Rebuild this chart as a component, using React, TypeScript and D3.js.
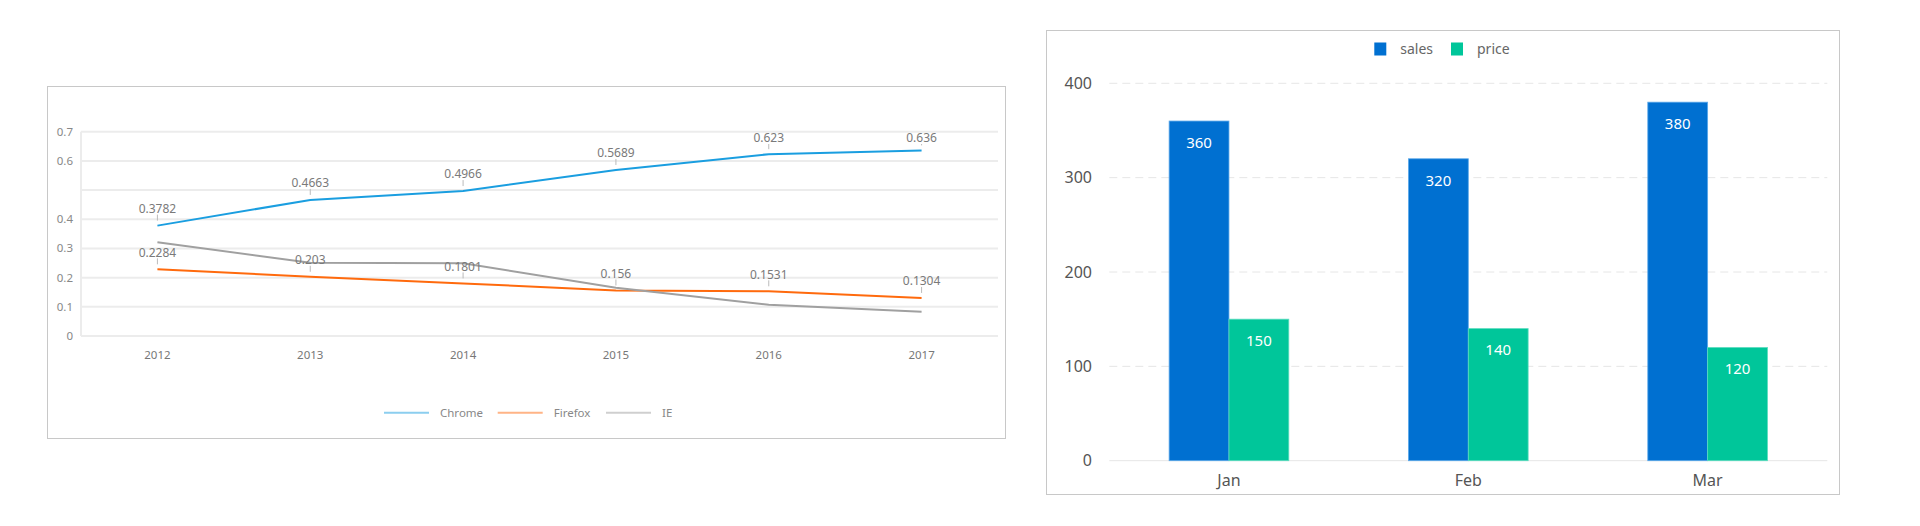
import React from 'react';
import * as d3 from 'd3';

// line chart data
const years = ['2012', '2013', '2014', '2015', '2016', '2017'];
const chrome = [0.3782, 0.4663, 0.4966, 0.5689, 0.623, 0.636];
const firefox = [0.2284, 0.203, 0.1801, 0.156, 0.1531, 0.1304];
const ie = [0.3214, 0.2511, 0.2491, 0.1652, 0.1067, 0.0834];
const shareTicks = [0, 0.1, 0.2, 0.3, 0.4, 0.5, 0.6, 0.7];
const shareTickLabels = ['0', '0.1', '0.2', '0.3', '0.4', '', '0.6', '0.7'];

// bar chart data
const months = ['Jan', 'Feb', 'Mar'];
const sales = [360, 320, 380];
const price = [150, 140, 120];
const barTicks = [0, 100, 200, 300, 400];

const FONT = '"Noto Sans", "Open Sans", sans-serif';

const lineSeries = [
  { name: 'Chrome', values: chrome, color: '#1a9ee0', labels: true },
  { name: 'Firefox', values: firefox, color: '#ff6a0d', labels: true },
  { name: 'IE', values: ie, color: '#a0a0a0', labels: false },
];

function LineChart() {
  const x = d3.scaleBand<string>().domain(years).range([81, 998]);
  const y = d3.scaleLinear().domain([0, 0.7]).range([336, 131.7]);
  const cx = (d: string) => (x(d) ?? 0) + x.bandwidth() / 2;
  const line = d3
    .line<number>()
    .x((_, i) => cx(years[i]))
    .y((d) => y(d));

  const legendX = [384, 497.7, 606];

  return (
    <g>
      <rect x={47.5} y={86.5} width={958} height={352} fill="#fff" stroke="#c8c8c8" />
      {shareTicks.map((t, i) => (
        <g key={t}>
          <line x1={81} x2={998} y1={y(t)} y2={y(t)} stroke="#ececec" strokeWidth={2} />
          <text x={73} y={y(t)} dy="0.35em" textAnchor="end" fontSize={11.5} fill="#888">
            {shareTickLabels[i]}
          </text>
        </g>
      ))}
      <line x1={81} x2={81} y1={y(0.7)} y2={y(0)} stroke="#ececec" strokeWidth={2} />
      {years.map((yr) => (
        <text key={yr} x={cx(yr)} y={355} dy="0.35em" textAnchor="middle" fontSize={11.5} fill="#777">
          {yr}
        </text>
      ))}
      {lineSeries.map((s) => (
        <path key={s.name} d={line(s.values) ?? ''} fill="none" stroke={s.color} strokeWidth={2} />
      ))}
      {lineSeries
        .filter((s) => s.labels)
        .map((s) =>
          s.values.map((v, i) => {
            const py = y(v);
            const ly = Math.max(py - 17, 138);
            return (
              <g key={s.name + i}>
                <line x1={cx(years[i])} x2={cx(years[i])} y1={ly + 6} y2={py - 5} stroke="#bbb" strokeWidth={1} />
                <text x={cx(years[i])} y={ly} dy="0.35em" textAnchor="middle" fontSize={12} fill="#7a7a7a">
                  {v}
                </text>
              </g>
            );
          })
        )}
      {lineSeries.map((s, i) => (
        <g key={s.name} transform={`translate(${legendX[i]},412.7)`}>
          <line x1={0} x2={45} y1={0} y2={0} stroke={s.color} strokeOpacity={0.5} strokeWidth={2} />
          <text x={56} y={0} dy="0.35em" fontSize={11.5} fill="#888">
            {s.name}
          </text>
        </g>
      ))}
    </g>
  );
}

const barSeries = [
  { name: 'sales', values: sales, color: '#0070d1', edge: '#5aa8ea' },
  { name: 'price', values: price, color: '#00c69a', edge: '#5cdcbf' },
];

function BarChart() {
  const x = d3.scaleBand<string>().domain(months).range([1109.3, 1827.3]).paddingInner(0.5).paddingOuter(0.25);
  const sub = d3
    .scaleBand<string>()
    .domain(barSeries.map((s) => s.name))
    .range([0, x.bandwidth()]);
  const y = d3.scaleLinear().domain([0, 400]).range([460.7, 83.3]);
  const legendX = [1374.3, 1451];

  return (
    <g>
      <rect x={1046.5} y={30.5} width={793} height={464} fill="#fff" stroke="#c8c8c8" />
      {barTicks.map((t) => (
        <g key={t}>
          <line
            x1={1109.3}
            x2={1827.3}
            y1={y(t)}
            y2={y(t)}
            stroke="#e6e6e6"
            strokeWidth={1}
            strokeDasharray={t === 0 ? undefined : '8,5'}
          />
          <text x={1092} y={y(t)} dy="0.35em" textAnchor="end" fontSize={16} fill="#555">
            {t}
          </text>
        </g>
      ))}
      {barSeries.map((s) =>
        s.values.map((v, i) => {
          const bx = (x(months[i]) ?? 0) + (sub(s.name) ?? 0);
          const w = sub.bandwidth();
          return (
            <g key={s.name + i}>
              <rect x={bx} y={y(v)} width={w} height={y(0) - y(v)} fill={s.color} stroke={s.edge} strokeWidth={0.8} />
              <text x={bx + w / 2} y={y(v) + 21.6} dy="0.35em" textAnchor="middle" fontSize={15} fill="#fff">
                {v}
              </text>
            </g>
          );
        })
      )}
      {months.map((m) => (
        <text key={m} x={(x(m) ?? 0) + x.bandwidth() / 2} y={480} dy="0.35em" textAnchor="middle" fontSize={16} fill="#555">
          {m}
        </text>
      ))}
      {barSeries.map((s, i) => (
        <g key={s.name} transform={`translate(${legendX[i]},49)`}>
          <rect x={0} y={-6.5} width={12} height={13} fill={s.color} />
          <text x={26} y={0} dy="0.35em" fontSize={14} fill="#666">
            {s.name}
          </text>
        </g>
      ))}
    </g>
  );
}

export default function App() {
  return (
    <div style={{ position: 'absolute', left: 0, top: 0 }}>
      <svg width={1920} height={526} style={{ display: 'block', fontFamily: FONT }}>
        <rect width={1920} height={526} fill="#fff" />
        <LineChart />
        <BarChart />
      </svg>
    </div>
  );
}
